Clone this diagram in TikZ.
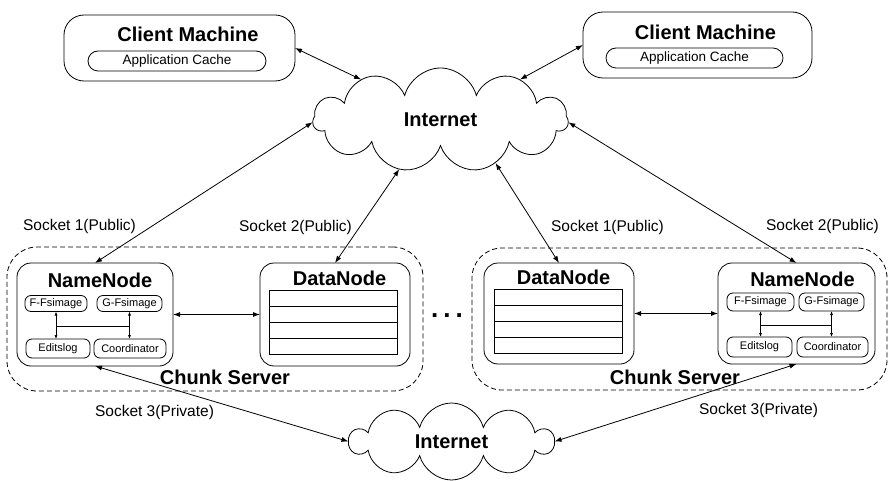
\documentclass[tikz,border=0pt]{standalone}
\usepackage{fontspec}
\setmainfont{Liberation Sans}
\usetikzlibrary{shapes.symbols, arrows.meta, calc}

\tikzset{
  box/.style={draw, line width=0.8pt, inner sep=0pt, outer sep=0pt},
  clientbox/.style={box, rounded corners=20pt},
  cachebox/.style={box, rounded corners=10pt, font=\fontsize{13.5}{16}\selectfont},
  serverbox/.style={box, dashed, dash pattern=on 5pt off 3pt, rounded corners=30pt},
  nodebox/.style={box, rounded corners=14pt},
  partbox/.style={box, rounded corners=6pt, font=\fontsize{11}{13}\selectfont},
  tablebox/.style={box},
  net/.style={draw, line width=0.8pt, cloud, cloud ignores aspect, inner sep=0pt,
    outer sep=0pt, font=\fontsize{20}{24}\selectfont\bfseries},
  title/.style={font=\fontsize{20}{24}\selectfont\bfseries, inner sep=0pt},
  socket/.style={font=\fontsize{15.5}{18}\selectfont, inner sep=0pt},
  link/.style={{Latex[length=7pt,width=5pt]}-{Latex[length=7pt,width=5pt]}, line width=0.8pt},
  sublink/.style={{Latex[length=4pt,width=3pt]}-{Latex[length=4pt,width=3pt]}, line width=0.7pt}
}

\begin{document}
\begin{tikzpicture}[x=1pt, y=-1pt]
\useasboundingbox (0,0) rectangle (888,481);

%% -- clients ------------------------------------------------------------------
\node[clientbox, minimum width=231, minimum height=66] (cl1) at (179.5,48) {};
\node[title] (cl1t) at (188,34) {Client Machine};
\node[cachebox, minimum width=178, minimum height=20] (ca1) at (177,61) {Application Cache};

\node[clientbox, minimum width=229, minimum height=66] (cl2) at (697.5,45) {};
\node[title] (cl2t) at (705.5,32) {Client Machine};
\node[cachebox, minimum width=177, minimum height=20] (ca2) at (694.5,58) {Application Cache};

%% -- clouds -------------------------------------------------------------------
\node[net, cloud puffs=11, minimum width=255, minimum height=104] (net1) at (440.5,120) {Internet};
\node[net, cloud puffs=10, minimum width=203, minimum height=77] (net2) at (451.5,441.5) {Internet};

%% -- chunk servers ------------------------------------------------------------
\node[serverbox, minimum width=416, minimum height=144] (cs1) at (215,319) {};
\node[title] (cs1t) at (225,377) {Chunk Server};
\node[serverbox, minimum width=415, minimum height=142] (cs2) at (679.5,319) {};
\node[title] (cs2t) at (675,377) {Chunk Server};

%% left server
\node[nodebox, minimum width=156, minimum height=103] (nn1) at (95,314.5) {};
\node[title] (nn1t) at (100,280) {NameNode};
\node[partbox, minimum width=62, minimum height=16] (ff1) at (56,303.5) {F-Fsimage};
\node[partbox, minimum width=65, minimum height=16] (gf1) at (129.5,303.5) {G-Fsimage};
\node[partbox, minimum width=64, minimum height=19] (el1) at (58,348.5) {Editslog};
\node[partbox, minimum width=72, minimum height=19] (co1) at (130,348.5) {Coordinator};

\node[nodebox, minimum width=150, minimum height=103] (dn1) at (335,314.5) {};
\node[title] (dn1t) at (339.5,278) {DataNode};
\node[tablebox, minimum width=128, minimum height=64] (tb1) at (333,322) {};

%% right server
\node[nodebox, minimum width=150, minimum height=101] (dn2) at (559,313.5) {};
\node[title] (dn2t) at (563.5,277) {DataNode};
\node[tablebox, minimum width=128, minimum height=64] (tb2) at (558,321) {};

\node[nodebox, minimum width=157, minimum height=101] (nn2) at (796.5,313.5) {};
\node[title] (nn2t) at (802.5,279) {NameNode};
\node[partbox, minimum width=67, minimum height=18] (ff2) at (760.5,302) {F-Fsimage};
\node[partbox, minimum width=65, minimum height=18] (gf2) at (831.5,302) {G-Fsimage};
\node[partbox, minimum width=65, minimum height=20] (el2) at (759.5,347) {Editslog};
\node[partbox, minimum width=71, minimum height=20] (co2) at (832.5,347) {Coordinator};

%% table rows
\foreach \t in {tb1, tb2} {
  \foreach \k in {1,2,3}
    \draw[line width=0.8pt] ($(\t.north west)!\k/4!(\t.south west)$) -- ($(\t.north east)!\k/4!(\t.south east)$);
}

%% dots between servers
\node[font=\fontsize{26}{30}\selectfont\bfseries, inner sep=0pt] (dots) at (447,316) {.\hspace{5pt}.\hspace{5pt}.};

%% -- NameNode internals -------------------------------------------------------
\foreach \i in {1,2} {
  \draw[sublink] (ff\i.south) -- (ff\i.south |- el\i.north)
    coordinate[pos=0.55] (ml\i);
  \draw[sublink] (gf\i.south) -- (gf\i.south |- co\i.north)
    coordinate[pos=0.55] (mr\i);
  \draw[line width=0.7pt] (ml\i) -- (mr\i);
}

%% -- links --------------------------------------------------------------------
\draw[link] (cl1.east) -- (net1.153);
\draw[link] (net1.27) -- (cl2.west);

\draw[link] (nn1.north) -- (net1.181);
\draw[link] (dn1.north) -- (net1.230);
\draw[link] (dn2.north) -- (net1.322);
\draw[link] (nn2.north) -- (net1.359);

\draw[link] (nn1.east) -- (dn1.west);
\draw[link] (dn2.east) -- (nn2.west);

\draw[link] (nn1.south) -- (net2.west);
\draw[link] (net2.east) -- (nn2.south);

%% -- socket labels ------------------------------------------------------------
\node[socket] (s11) at (79.5,226) {Socket 1(Public)};
\node[socket] (s12) at (295.5,227) {Socket 2(Public)};
\node[socket] (s21) at (607.5,227) {Socket 1(Public)};
\node[socket] (s22) at (822.5,226) {Socket 2(Public)};
\node[socket] (s13) at (154.5,412) {Socket 3(Private)};
\node[socket] (s23) at (758.5,410) {Socket 3(Private)};

\end{tikzpicture}
\end{document}
